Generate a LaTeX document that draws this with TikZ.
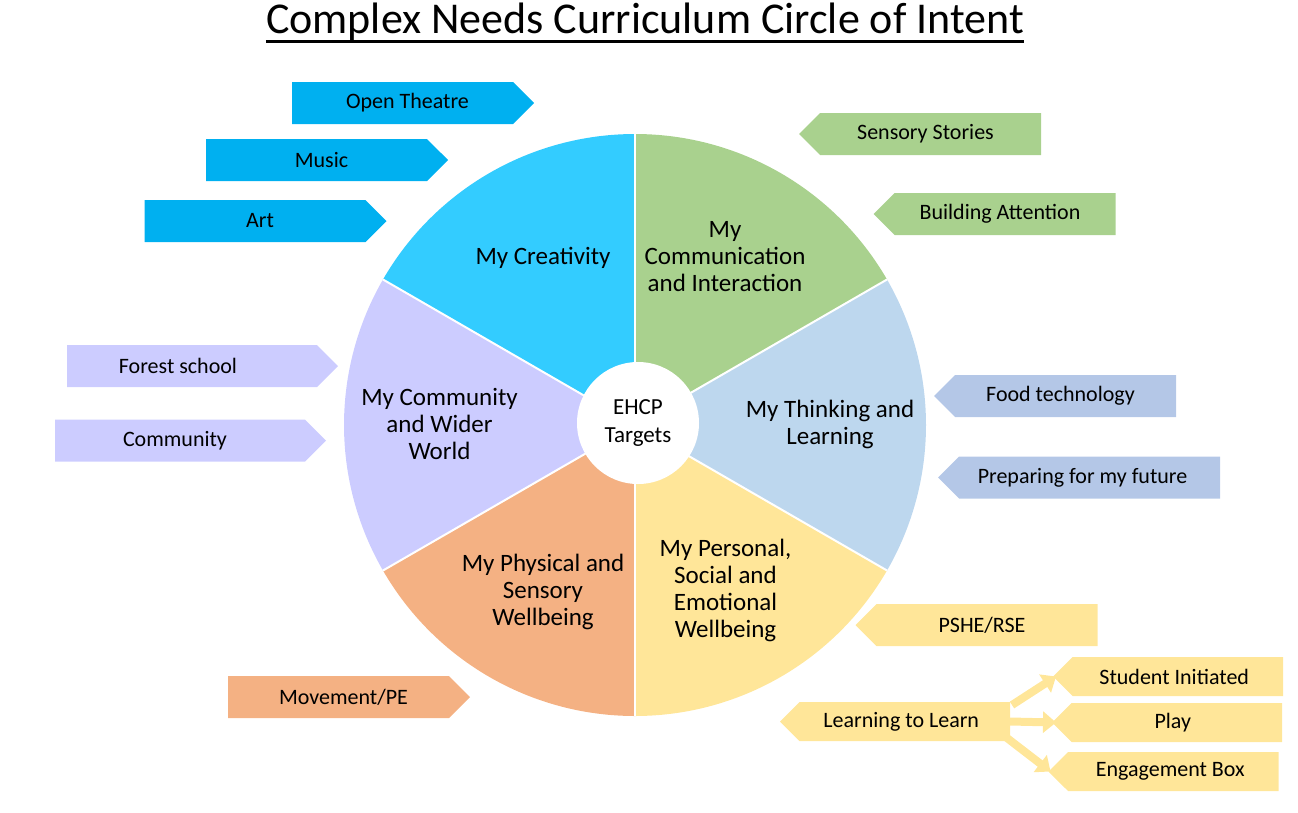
\documentclass[tikz,border=0pt]{standalone}
\usepackage{fontspec}
\setmainfont{Carlito}
\usetikzlibrary{shapes.symbols, arrows.meta}

\definecolor{creative}{HTML}{33CCFF}
\definecolor{creativetab}{HTML}{00B0F0}
\definecolor{comm}{HTML}{A9D18E}
\definecolor{thinking}{HTML}{BDD7EE}
\definecolor{thinkingtab}{HTML}{B4C7E7}
\definecolor{personal}{HTML}{FFE699}
\definecolor{physical}{HTML}{F4B183}
\definecolor{community}{HTML}{CCCCFF}

\begin{document}
\begin{tikzpicture}[
  x = 1pt, y = -1pt,
  tab/.style = {
    shape = signal,
    signal pointer angle = 90,
    minimum width = 242pt,
    minimum height = 42pt,
    inner sep = 0pt,
    outer sep = 0pt,
    font = \fontsize{22}{26}\selectfont
  },
  east tab/.style = {tab, signal to = east, execute at begin node = {\hspace*{#1}}},
  east tab/.default = 10pt,
  west tab/.style = {tab, signal to = west, execute at end node = {\hspace*{#1}}},
  west tab/.default = 10pt,
  small tab/.style = {minimum width = 230pt, minimum height = 39pt},
  area/.style = {
    align = center,
    font = \fontsize{25}{27}\selectfont
  },
  link/.style = {
    draw = personal,
    line width = 8pt,
    -{Triangle[length = 13pt, width = 21pt]}
  }
]
  \useasboundingbox (0, 0) rectangle (1298, 812);

  \node[anchor = base, font = \fontsize{44}{50}\selectfont, inner sep = 0pt] (title) at (645, 33) {Complex Needs Curriculum Circle of Intent};
  \draw[line width = 3pt] ([yshift = -8pt]title.base west) -- ([yshift = -8pt]title.base east);

  \coordinate (wheel) at (635, 425);
  \foreach \a/\c in {90/creative, 150/community, 210/physical, 270/personal, 330/thinking, 30/comm}
    \fill[\c] (wheel) -- ++(-\a:291) arc[start angle = -\a, end angle = -\a-60, radius = 291] -- cycle;
  \foreach \a in {30, 90, ..., 330}
    \draw[white, line width = 2pt] (wheel) -- ++(\a:291);

  \node[circle, fill = white, minimum size = 122pt, align = center, font = \fontsize{23}{28}\selectfont] (ehcp) at (638, 423) {EHCP\\Targets};

  \node[area] (creativity) at (543, 258) {My Creativity};
  \node[area] (communication) at (725, 256.5) {My\\Communication\\and Interaction};
  \node[area] (thinking) at (830, 424.5) {My Thinking and\\Learning};
  \node[area] (personal) at (725.5, 590.5) {My Personal,\\Social and\\Emotional\\Wellbeing};
  \node[area] (physical) at (543, 591.5) {My Physical and\\Sensory\\Wellbeing};
  \node[area] (community) at (439.5, 424) {My Community\\and Wider\\World};

  \node[east tab, fill = creativetab] (theatre) at (402.5, 103) {Open Theatre};
  \node[east tab, fill = creativetab] (music) at (316.5, 160) {Music};
  \node[east tab, fill = creativetab] (art) at (255, 221) {Art};

  \node[west tab, fill = comm] (stories) at (930.5, 134) {Sensory Stories};
  \node[west tab, fill = comm] (attention) at (1005, 214) {Building Attention};

  \node[west tab, fill = thinkingtab] (food) at (1065.5, 396) {Food technology};
  \node[west tab = 14pt, fill = thinkingtab, minimum width = 282pt] (future) at (1089.5, 477.5) {Preparing for my future};

  \node[east tab = -28pt, fill = community, minimum width = 271pt] (forest) at (192, 366) {Forest school};
  \node[east tab = -10pt, fill = community, minimum width = 271pt] (local) at (180, 440.5) {Community};

  \node[east tab, fill = physical] (movement) at (338.5, 697) {Movement/PE};

  \node[west tab, fill = personal] (pshe) at (987, 625) {PSHE/RSE};
  \node[west tab = 7pt, small tab, fill = personal] (learn) at (904.75, 721.5) {Learning to Learn};
  \node[west tab = 7pt, small tab, fill = personal] (student) at (1177.75, 676.5) {Student Initiated};
  \node[west tab = 8pt, small tab, fill = personal] (play) at (1176.75, 722.5) {Play};
  \node[west tab = 6pt, small tab, fill = personal] (engage) at (1173.25, 771.5) {Engagement Box};

  \draw[link] ([shift = {(2, 3)}]learn.north east) -- ([xshift = 3pt]student.west);
  \draw[link] (learn.east) -- ([xshift = 4pt]play.west);
  \draw[link] ([shift = {(-3, -3)}]learn.south east) -- ([xshift = 2pt]engage.west);
\end{tikzpicture}
\end{document}
